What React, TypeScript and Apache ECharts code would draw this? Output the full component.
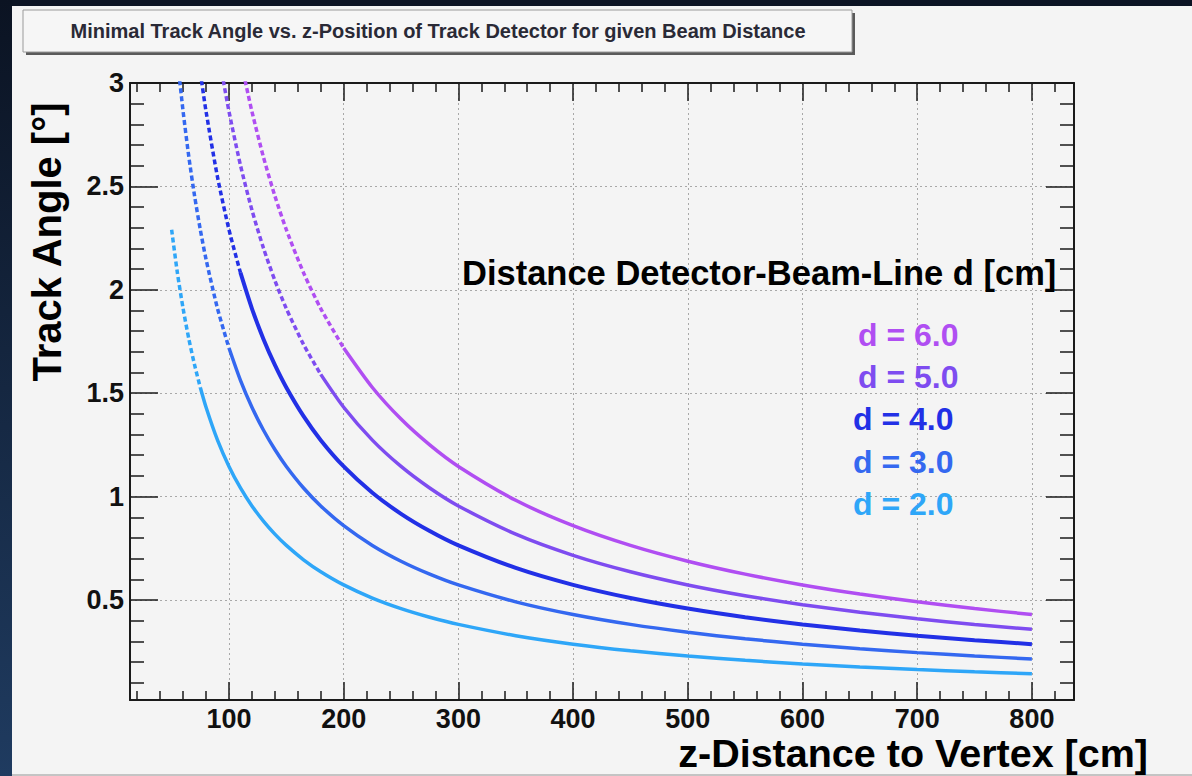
import React, { useEffect, useRef } from "react";
import * as echarts from "echarts";

// ---- tick values ----
const X_MAJOR = [100, 200, 300, 400, 500, 600, 700, 800];
const X_MINOR = [20, 40, 60, 80, 120, 140, 160, 180, 220, 240, 260, 280, 320, 340, 360, 380, 420, 440, 460, 480, 520, 540, 560, 580, 620, 640, 660, 680, 720, 740, 760, 780, 820];
const Y_MAJOR = [0.5, 1, 1.5, 2, 2.5, 3];
const Y_MINOR = [0.1, 0.2, 0.3, 0.4, 0.6, 0.7, 0.8, 0.9, 1.1, 1.2, 1.3, 1.4, 1.6, 1.7, 1.8, 1.9, 2.1, 2.2, 2.3, 2.4, 2.6, 2.7, 2.8, 2.9];

// ---- series (z in cm, angle in degrees) ----
const D2_Z = [50, 55, 60, 65, 70, 75, 80, 90, 100, 110, 120, 130, 140, 150, 165, 180, 200, 225, 250, 275, 300, 350, 400, 450, 500, 550, 600, 650, 700, 750, 800];
const D2_ANGLE = [2.2906, 2.0826, 1.9092, 1.7624, 1.6366, 1.5275, 1.4321, 1.273, 1.1458, 1.0416, 0.9548, 0.8814, 0.8185, 0.7639, 0.6945, 0.6366, 0.5729, 0.5093, 0.4584, 0.4167, 0.382, 0.3274, 0.2865, 0.2546, 0.2292, 0.2083, 0.191, 0.1763, 0.1637, 0.1528, 0.1432];

const D3_Z = [57, 60, 65, 70, 75, 80, 90, 100, 110, 120, 130, 140, 150, 165, 180, 200, 225, 250, 275, 300, 350, 400, 450, 500, 550, 600, 650, 700, 750, 800];
const D3_ANGLE = [3.0128, 2.8624, 2.6426, 2.454, 2.2906, 2.1476, 1.9092, 1.7184, 1.5622, 1.4321, 1.322, 1.2276, 1.1458, 1.0416, 0.9548, 0.8594, 0.7639, 0.6875, 0.625, 0.5729, 0.4911, 0.4297, 0.382, 0.3438, 0.3125, 0.2865, 0.2644, 0.2455, 0.2292, 0.2149];

const D4_Z = [76, 80, 90, 100, 110, 120, 130, 140, 150, 165, 180, 200, 225, 250, 275, 300, 350, 400, 450, 500, 550, 600, 650, 700, 750, 800];
const D4_ANGLE = [3.0128, 2.8624, 2.5448, 2.2906, 2.0826, 1.9092, 1.7624, 1.6366, 1.5275, 1.3887, 1.273, 1.1458, 1.0185, 0.9167, 0.8334, 0.7639, 0.6548, 0.5729, 0.5093, 0.4584, 0.4167, 0.382, 0.3526, 0.3274, 0.3056, 0.2865];

const D5_Z = [95, 100, 110, 120, 130, 140, 150, 165, 180, 200, 225, 250, 275, 300, 350, 400, 450, 500, 550, 600, 650, 700, 750, 800];
const D5_ANGLE = [3.0128, 2.8624, 2.6026, 2.3859, 2.2026, 2.0454, 1.9092, 1.7357, 1.5911, 1.4321, 1.273, 1.1458, 1.0416, 0.9548, 0.8185, 0.7161, 0.6366, 0.5729, 0.5209, 0.4775, 0.4407, 0.4093, 0.382, 0.3581];

const D6_Z = [114, 120, 130, 140, 150, 165, 180, 200, 225, 250, 275, 300, 350, 400, 450, 500, 550, 600, 650, 700, 750, 800];
const D6_ANGLE = [3.0128, 2.8624, 2.6426, 2.454, 2.2906, 2.0826, 1.9092, 1.7184, 1.5275, 1.3748, 1.2499, 1.1458, 0.9821, 0.8594, 0.7639, 0.6875, 0.625, 0.5729, 0.5289, 0.4911, 0.4584, 0.4297];

const CURVE_LABELS = ["d = 6.0", "d = 5.0", "d = 4.0", "d = 3.0", "d = 2.0"];
const CURVE_COLORS = ["#b04ef2", "#7e4cf0", "#2230e6", "#3468f0", "#2ea6f8"];
const CURVE_Z = [D6_Z, D5_Z, D4_Z, D3_Z, D2_Z];
const CURVE_ANGLE = [D6_ANGLE, D5_ANGLE, D4_ANGLE, D3_ANGLE, D2_ANGLE];
const DASH_END_Z = [200, 180, 110, 100, 75];

const TITLE = "Minimal Track Angle vs. z-Position of Track Detector for given Beam Distance";
const LEGEND_HEADER = "Distance Detector-Beam-Line d [cm]";
const X_NAME = "z-Distance to Vertex [cm]";
const Y_NAME = "Track Angle [°]";

const FONT = '"Liberation Sans", Arial, Helvetica, sans-serif';

const X_MIN = 13.7;
const X_MAX = 836.7;
const Y_MIN = 0.0164;
const Y_MAX = 3;

export default function App() {
  const ref = useRef<HTMLDivElement>(null);

  useEffect(() => {
    if (!ref.current) return;
    const chart = echarts.init(ref.current, undefined, { renderer: "svg" });

    const series: any[] = [];
    CURVE_Z.forEach((zs, i) => {
      const pts = zs.map((z, k) => [z, CURVE_ANGLE[i][k]]);
      const split = DASH_END_Z[i];
      const dashed = pts.filter((p) => p[0] <= split);
      const solid = pts.filter((p) => p[0] >= split);
      const common = {
        type: "line",
        xAxisIndex: 0,
        yAxisIndex: 0,
        showSymbol: false,
        symbol: "none",
        smooth: 0.25,
        clip: true,
        silent: true,
        z: 3,
      };
      series.push({
        ...common,
        name: CURVE_LABELS[i] + " dashed",
        data: dashed,
        lineStyle: { color: CURVE_COLORS[i], width: 3.5, type: [5, 3] },
      });
      series.push({
        ...common,
        name: CURVE_LABELS[i],
        data: solid,
        lineStyle: { color: CURVE_COLORS[i], width: i === 2 ? 4 : 3.5, type: "solid" },
      });
    });

    const axisLineStyle = { show: true, onZero: false, lineStyle: { color: "#1a1a1a", width: 2 } };
    const tickLine = { color: "#1a1a1a", width: 1.5 };
    const gridLine = { show: true, lineStyle: { color: "#a8a8a8", width: 1, type: [2, 3] } };

    const xBase = { type: "value", min: X_MIN, max: X_MAX, gridIndex: 0 };
    const yBase = { type: "value", min: Y_MIN, max: Y_MAX, gridIndex: 0 };

    const option: any = {
      animation: false,
      backgroundColor: "#f4f4f4",
      grid: { left: 130, top: 83, width: 944, height: 617, containLabel: false, outerBoundsMode: "none" },
      xAxis: [
        {
          ...xBase,
          position: "bottom",
          axisLine: axisLineStyle,
          axisTick: { show: true, inside: true, length: 18, customValues: X_MAJOR, lineStyle: tickLine },
          axisLabel: {
            show: true,
            customValues: X_MAJOR,
            margin: 5,
            color: "#111",
            fontFamily: FONT,
            fontWeight: "bold",
            fontSize: 27,
          },
          splitLine: gridLine,
        },
        {
          ...xBase,
          position: "bottom",
          axisLine: { show: false },
          axisTick: { show: true, inside: true, length: 9, customValues: X_MINOR, lineStyle: tickLine },
          axisLabel: { show: false },
          splitLine: { show: false },
        },
        {
          ...xBase,
          position: "top",
          axisLine: axisLineStyle,
          axisTick: { show: true, inside: true, length: 18, customValues: X_MAJOR, lineStyle: tickLine },
          axisLabel: { show: false },
          splitLine: { show: false },
        },
        {
          ...xBase,
          position: "top",
          axisLine: { show: false },
          axisTick: { show: true, inside: true, length: 9, customValues: X_MINOR, lineStyle: tickLine },
          axisLabel: { show: false },
          splitLine: { show: false },
        },
      ],
      yAxis: [
        {
          ...yBase,
          position: "left",
          axisLine: axisLineStyle,
          axisTick: { show: true, inside: true, length: 28, customValues: Y_MAJOR, lineStyle: tickLine },
          axisLabel: {
            show: true,
            customValues: Y_MAJOR,
            margin: 6,
            color: "#111",
            fontFamily: FONT,
            fontWeight: "bold",
            fontSize: 27,
          },
          splitLine: gridLine,
        },
        {
          ...yBase,
          position: "left",
          axisLine: { show: false },
          axisTick: { show: true, inside: true, length: 14, customValues: Y_MINOR, lineStyle: tickLine },
          axisLabel: { show: false },
          splitLine: { show: false },
        },
        {
          ...yBase,
          position: "right",
          axisLine: axisLineStyle,
          axisTick: { show: true, inside: true, length: 28, customValues: Y_MAJOR, lineStyle: tickLine },
          axisLabel: { show: false },
          splitLine: { show: false },
        },
        {
          ...yBase,
          position: "right",
          axisLine: { show: false },
          axisTick: { show: true, inside: true, length: 14, customValues: Y_MINOR, lineStyle: tickLine },
          axisLabel: { show: false },
          splitLine: { show: false },
        },
      ],
      series,
      graphic: [
        // dark surrounding frame
        { type: "rect", z: 0, shape: { x: 0, y: 0, width: 1192, height: 6 }, style: { fill: "#0c1424" }, silent: true },
        {
          type: "rect",
          z: 0,
          shape: { x: 0, y: 0, width: 12, height: 776 },
          style: {
            fill: new echarts.graphic.LinearGradient(0, 0, 0, 1, [
              { offset: 0, color: "#0b1322" },
              { offset: 1, color: "#1f3b60" },
            ]),
          },
          silent: true,
        },
        { type: "rect", z: 0, shape: { x: 12, y: 774, width: 1180, height: 2 }, style: { fill: "#c4c4c4" }, silent: true },
        // title box with shadow
        { type: "rect", z: 1, shape: { x: 26, y: 13, width: 829, height: 42 }, style: { fill: "#5a5a5a" }, silent: true },
        { type: "rect", z: 2, shape: { x: 23, y: 10, width: 829, height: 42 }, style: { fill: "#f6f6f6", stroke: "#9a9a9a", lineWidth: 1 }, silent: true },
        {
          type: "text",
          z: 3,
          x: 438,
          y: 31,
          style: {
            text: TITLE,
            fill: "#2a2a36",
            font: `bold 20px ${FONT}`,
            align: "center",
            verticalAlign: "middle",
          },
          silent: true,
        },
        // axis titles
        {
          type: "text",
          z: 10,
          x: 47,
          y: 242,
          rotation: Math.PI / 2,
          style: {
            text: Y_NAME,
            fill: "#000",
            font: `bold 40px ${FONT}`,
            align: "center",
            verticalAlign: "middle",
          },
          silent: true,
        },
        {
          type: "text",
          z: 10,
          x: 1148,
          y: 753,
          style: {
            text: X_NAME,
            fill: "#000",
            font: `bold 39.5px ${FONT}`,
            align: "right",
            verticalAlign: "middle",
          },
          silent: true,
        },
        // legend text
        {
          type: "text",
          z: 10,
          x: 462,
          y: 273,
          style: {
            text: LEGEND_HEADER,
            fill: "#000",
            font: `bold 34.5px ${FONT}`,
            align: "left",
            verticalAlign: "middle",
          },
          silent: true,
        },
        ...CURVE_LABELS.map((t, i) => ({
          type: "text",
          z: 10,
          x: i < 2 ? 858 : 853,
          y: [335, 377, 419, 462, 504][i],
          style: {
            text: t,
            fill: CURVE_COLORS[i],
            font: `bold 32px ${FONT}`,
            align: "left",
            verticalAlign: "middle",
          },
          silent: true,
        })),
      ],
    };

    chart.setOption(option);
    return () => {
      chart.dispose();
    };
  }, []);

  return (
    <div
      ref={ref}
      style={{ position: "absolute", left: 0, top: 0, width: 1192, height: 776 }}
    />
  );
}
